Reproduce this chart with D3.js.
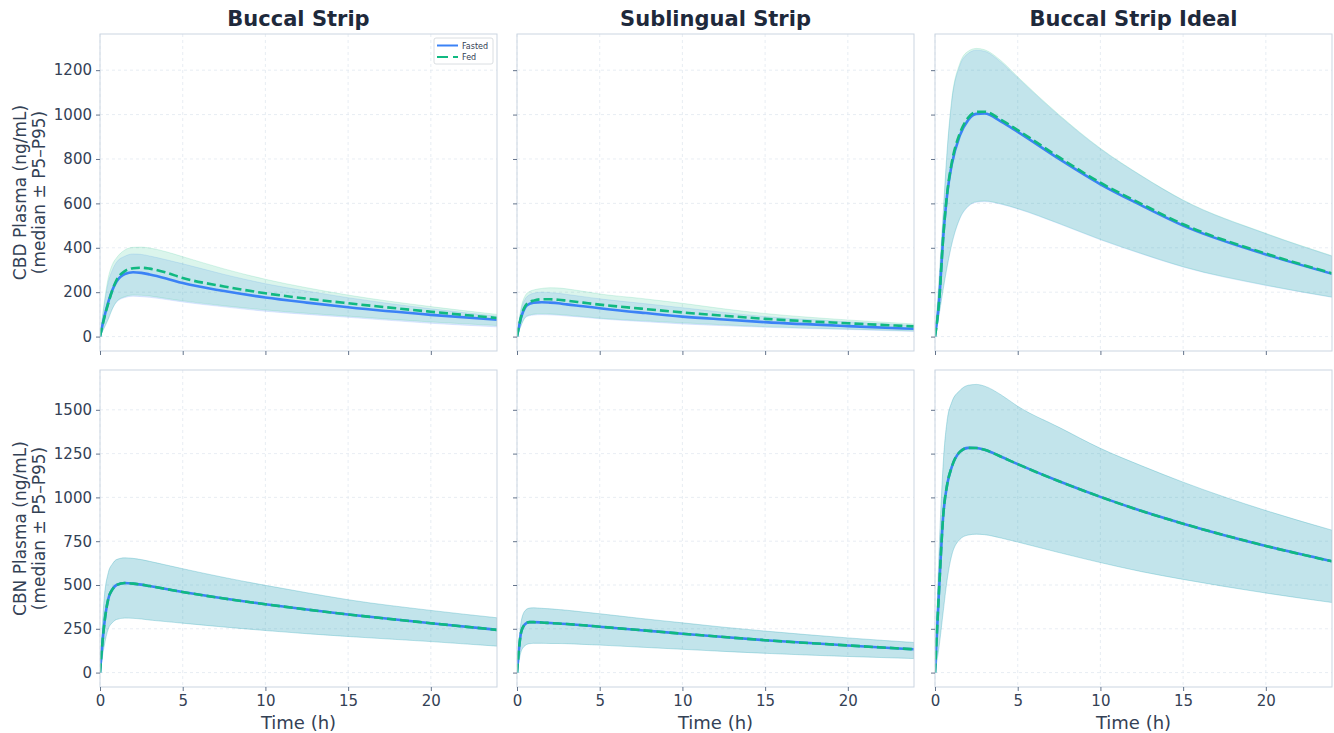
<!DOCTYPE html>
<html>
<head>
<meta charset="utf-8">
<script src="https://cdn.jsdelivr.net/npm/d3@7"></script>
<style>
  body { margin: 0; background: #ffffff; }
  svg { font-family: 'DejaVu Sans', sans-serif; }
</style>
</head>
<body>
<div class="container"></div>
<script>
// time grid (h)
const T = [0, 0.25, 0.5, 0.75, 1, 1.5, 2, 2.5, 3, 4, 5, 7.5, 10, 12.5, 15, 20, 24];

// CBD - Buccal Strip
const cbdBuccalFastMed = [0, 85, 155, 210, 248, 282, 290, 287, 280, 262, 241, 205, 176, 153, 132, 98, 76];
const cbdBuccalFastLo  = [0, 40, 80, 125, 155, 176, 182, 180, 177, 167, 156, 134, 114, 100, 87, 60, 44];
const cbdBuccalFastHi  = [0, 140, 245, 300, 335, 362, 372, 370, 363, 346, 328, 280, 238, 205, 175, 125, 92];
const cbdBuccalFedMed  = [0, 82, 150, 210, 255, 295, 308, 310, 306, 288, 264, 226, 195, 171, 150, 112, 84];
const cbdBuccalFedLo   = [0, 38, 78, 125, 158, 180, 187, 186, 183, 172, 161, 139, 120, 105, 92, 66, 50];
const cbdBuccalFedHi   = [0, 150, 265, 325, 355, 390, 402, 403, 399, 382, 360, 305, 258, 220, 187, 135, 100];

// CBD - Sublingual Strip
const cbdSubFastMed = [0, 87, 132, 147, 153, 155, 153, 150, 145, 137, 128, 108, 90, 77, 65, 47, 35];
const cbdSubFastLo  = [0, 50, 85, 94, 97, 99, 98, 96, 93, 87, 80, 68, 57, 49, 42, 32, 23];
const cbdSubFastHi  = [0, 120, 170, 188, 195, 200, 198, 195, 190, 180, 170, 150, 130, 109, 90, 67, 50];
const cbdSubFedMed  = [0, 90, 138, 155, 162, 168, 168, 166, 162, 153, 144, 126, 109, 94, 80, 60, 46];
const cbdSubFedLo   = [0, 50, 87, 97, 101, 103, 102, 100, 97, 90, 83, 72, 62, 53, 45, 34, 26];
const cbdSubFedHi   = [0, 130, 185, 203, 210, 217, 220, 219, 215, 204, 192, 172, 150, 125, 104, 75, 57];

// CBD - Buccal Strip Ideal
const cbdIdealFastMed = [0, 160, 450, 650, 770, 905, 975, 1003, 1005, 968, 922, 800, 686, 590, 500, 370, 283];
const cbdIdealFastLo  = [0, 100, 215, 320, 410, 530, 585, 605, 608, 596, 575, 508, 436, 372, 313, 230, 177];
const cbdIdealFastHi  = [0, 260, 560, 850, 1050, 1220, 1275, 1290, 1285, 1235, 1165, 995, 845, 722, 613, 463, 362];
const cbdIdealFedMed  = [0, 160, 452, 655, 778, 915, 985, 1012, 1013, 976, 930, 808, 693, 597, 506, 374, 285];
const cbdIdealFedLo   = [0, 100, 216, 322, 413, 533, 588, 608, 611, 598, 577, 510, 438, 374, 315, 232, 178];
const cbdIdealFedHi   = [0, 262, 565, 858, 1060, 1230, 1285, 1298, 1292, 1242, 1170, 999, 848, 724, 615, 465, 364];

// CBN - fasted and fed coincide
const cbnBuccalMed = [0, 270, 420, 475, 500, 511, 508, 502, 494, 477, 460, 423, 390, 360, 332, 282, 244];
const cbnBuccalLo  = [0, 150, 250, 285, 303, 311, 310, 306, 300, 291, 282, 260, 240, 222, 206, 177, 151];
const cbnBuccalHi  = [0, 420, 570, 620, 645, 655, 652, 645, 635, 614, 593, 543, 498, 456, 416, 355, 313];

const cbnSubMed = [0, 230, 278, 288, 288, 286, 283, 280, 277, 270, 262, 242, 222, 203, 185, 155, 133];
const cbnSubLo  = [0, 120, 155, 165, 167, 167, 166, 166, 165, 161, 157, 145, 133, 121, 110, 92, 80];
const cbnSubHi  = [0, 290, 355, 368, 370, 367, 364, 360, 356, 346, 336, 309, 284, 259, 237, 198, 172];

const cbnIdealMed = [0, 480, 900, 1080, 1170, 1260, 1283, 1282, 1272, 1232, 1190, 1092, 1003, 922, 850, 723, 635];
const cbnIdealLo  = [0, 150, 350, 540, 665, 760, 785, 790, 787, 768, 745, 685, 628, 576, 532, 454, 400];
const cbnIdealHi  = [0, 700, 1200, 1450, 1540, 1610, 1640, 1645, 1635, 1585, 1520, 1400, 1280, 1180, 1087, 925, 813];

const titles = ['Buccal Strip', 'Sublingual Strip', 'Buccal Strip Ideal'];
const rowLabels = [['CBD Plasma (ng/mL)', '(median \u00b1 P5\u2013P95)'], ['CBN Plasma (ng/mL)', '(median \u00b1 P5\u2013P95)']];
const xTicks = [0, 5, 10, 15, 20];
const yTicksRows = [[0, 200, 400, 600, 800, 1000, 1200], [0, 250, 500, 750, 1000, 1250, 1500]];

const panels = [
  [
    { fast: [cbdBuccalFastMed, cbdBuccalFastLo, cbdBuccalFastHi], fed: [cbdBuccalFedMed, cbdBuccalFedLo, cbdBuccalFedHi] },
    { fast: [cbdSubFastMed, cbdSubFastLo, cbdSubFastHi], fed: [cbdSubFedMed, cbdSubFedLo, cbdSubFedHi] },
    { fast: [cbdIdealFastMed, cbdIdealFastLo, cbdIdealFastHi], fed: [cbdIdealFedMed, cbdIdealFedLo, cbdIdealFedHi] }
  ],
  [
    { fast: [cbnBuccalMed, cbnBuccalLo, cbnBuccalHi], fed: [cbnBuccalMed, cbnBuccalLo, cbnBuccalHi] },
    { fast: [cbnSubMed, cbnSubLo, cbnSubHi], fed: [cbnSubMed, cbnSubLo, cbnSubHi] },
    { fast: [cbnIdealMed, cbnIdealLo, cbnIdealHi], fed: [cbnIdealMed, cbnIdealLo, cbnIdealHi] }
  ]
];

const WIDTH = 1334, HEIGHT = 733;
const colX = [100, 517, 935];
const rowY = [34, 370];
const PW = 397, PH = 317;

const BLUE = '#3b82f6', GREEN = '#10b981';
const SPINE = '#cbd5e1', TEXT = '#334155', TITLE = '#1e293b';

const svg = d3.select('.container').append('svg')
  .attr('width', WIDTH)
  .attr('height', HEIGHT);

const xScale = d3.scaleLinear().domain([0, 24]).range([0, PW]);

panels.forEach(function (row, r) {
  // shared y per row, matplotlib-like 5% margins
  var ymax = d3.max(row, function (p) { return Math.max(d3.max(p.fast[2]), d3.max(p.fed[2])); });
  var pad = ymax * 0.05;
  var yScale = d3.scaleLinear().domain([-pad, ymax + pad]).range([PH, 0]);

  row.forEach(function (p, c) {
    var g = svg.append('g').attr('transform', 'translate(' + colX[c] + ',' + rowY[r] + ')');
    var clipId = 'clip' + r + c;
    g.append('clipPath').attr('id', clipId).append('rect').attr('width', PW).attr('height', PH);

    // grid
    g.append('g').selectAll('line').data(xTicks).enter().append('line')
      .attr('x1', function (d) { return xScale(d); }).attr('x2', function (d) { return xScale(d); })
      .attr('y1', 0).attr('y2', PH)
      .attr('stroke', '#e2e8f0').attr('stroke-width', 0.8).attr('stroke-dasharray', '3,3');
    g.append('g').selectAll('line').data(yTicksRows[r]).enter().append('line')
      .attr('y1', function (d) { return yScale(d); }).attr('y2', function (d) { return yScale(d); })
      .attr('x1', 0).attr('x2', PW)
      .attr('stroke', '#e2e8f0').attr('stroke-width', 0.8).attr('stroke-dasharray', '3,3');

    var plot = g.append('g').attr('clip-path', 'url(#' + clipId + ')');

    var area = function (lo, hi) {
      return d3.area()
        .x(function (d, i) { return xScale(T[i]); })
        .y0(function (d, i) { return yScale(lo[i]); })
        .y1(function (d, i) { return yScale(hi[i]); })
        .curve(d3.curveMonotoneX)(T);
    };
    var line = function (vals) {
      return d3.line()
        .x(function (d, i) { return xScale(T[i]); })
        .y(function (d) { return yScale(d); })
        .curve(d3.curveMonotoneX)(vals);
    };

    plot.append('path').attr('d', area(p.fast[1], p.fast[2]))
      .attr('fill', BLUE).attr('fill-opacity', 0.15)
      .attr('stroke', BLUE).attr('stroke-opacity', 0.15).attr('stroke-width', 1);
    plot.append('path').attr('d', area(p.fed[1], p.fed[2]))
      .attr('fill', GREEN).attr('fill-opacity', 0.15)
      .attr('stroke', GREEN).attr('stroke-opacity', 0.15).attr('stroke-width', 1);

    plot.append('path').attr('d', line(p.fast[0]))
      .attr('fill', 'none').attr('stroke', BLUE).attr('stroke-width', 2.6);
    plot.append('path').attr('d', line(p.fed[0]))
      .attr('fill', 'none').attr('stroke', GREEN).attr('stroke-width', 2.6)
      .attr('stroke-dasharray', '9,4');

    // spines
    g.append('rect').attr('width', PW).attr('height', PH)
      .attr('fill', 'none').attr('stroke', SPINE).attr('stroke-width', 1);

    // axes
    var xAxis = d3.axisBottom(xScale).tickValues(xTicks).tickSize(4).tickPadding(4)
      .tickFormat(r === 1 ? d3.format('d') : function () { return ''; });
    var xa = g.append('g').attr('transform', 'translate(0,' + PH + ')').call(xAxis);
    var yAxis = d3.axisLeft(yScale).tickValues(yTicksRows[r]).tickSize(4).tickPadding(4)
      .tickFormat(c === 0 ? d3.format('d') : function () { return ''; });
    var ya = g.append('g').call(yAxis);
    [xa, ya].forEach(function (a) {
      a.select('.domain').remove();
      a.selectAll('.tick line').attr('stroke', '#64748b').attr('stroke-width', 1);
      a.selectAll('.tick text').attr('fill', TEXT).style('font-size', '15px')
        .style('font-family', 'DejaVu Sans');
    });

    if (r === 0) {
      g.append('text').attr('x', PW / 2).attr('y', -8)
        .attr('text-anchor', 'middle').attr('fill', TITLE)
        .style('font-size', '21px').style('font-weight', 'bold')
        .text(titles[c]);
    }
    if (r === 1) {
      g.append('text').attr('x', PW / 2).attr('y', PH + 42)
        .attr('text-anchor', 'middle').attr('fill', TEXT)
        .style('font-size', '18px').text('Time (h)');
    }
    if (c === 0) {
      var yl = g.append('text').attr('text-anchor', 'middle').attr('fill', TEXT)
        .style('font-size', '17px')
        .attr('transform', 'translate(-74,' + (PH / 2) + ') rotate(-90)');
      yl.append('tspan').attr('x', 0).attr('dy', 0).text(rowLabels[r][0]);
      yl.append('tspan').attr('x', 0).attr('dy', 19).text(rowLabels[r][1]);
    }

    // legend in first panel
    if (r === 0 && c === 0) {
      var lg = g.append('g').attr('transform', 'translate(' + (PW - 63) + ',4)');
      lg.append('rect').attr('width', 59).attr('height', 26).attr('rx', 2)
        .attr('fill', '#ffffff').attr('fill-opacity', 0.9)
        .attr('stroke', '#d1d5db').attr('stroke-width', 0.8);
      var items = [{ name: 'Fasted', color: BLUE, dash: null }, { name: 'Fed', color: GREEN, dash: '11,5' }];
      items.forEach(function (it, i) {
        var yy = 7.5 + i * 11.5;
        lg.append('line').attr('x1', 3).attr('x2', 24).attr('y1', yy).attr('y2', yy)
          .attr('stroke', it.color).attr('stroke-width', 2)
          .attr('stroke-dasharray', it.dash);
        lg.append('text').attr('x', 28).attr('y', yy + 3).attr('fill', TEXT)
          .style('font-size', '8px').text(it.name);
      });
    }
  });
});
</script>
</body>
</html>
